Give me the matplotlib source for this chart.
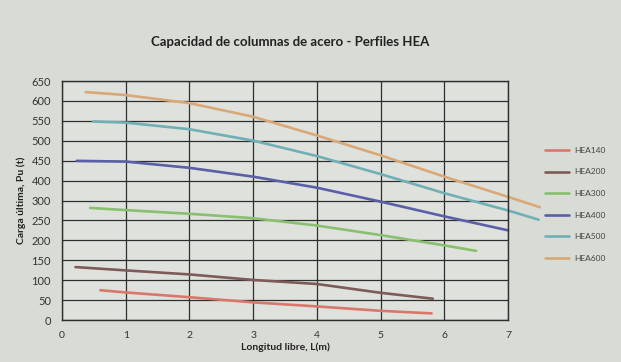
import numpy as np
import matplotlib.pyplot as plt

# valores (longitud libre en m, carga ultima en t)
x_140 = [0.6, 1, 2, 3, 4, 5, 5.8]
y_140 = [81, 75, 62, 48, 37, 25, 18]

x_200 = [0.21, 1, 2, 3, 4, 5, 5.82]
y_200 = [144, 135, 124, 109, 98, 74, 58]

x_300 = [0.44, 1, 2, 3, 4, 5, 6, 6.5]
y_300 = [305, 299, 289, 277, 257, 231, 203, 188]

x_400 = [0.23, 1, 2, 3, 4, 5, 6, 7]
y_400 = [433, 431, 414, 390, 360, 322, 282, 244]

x_500 = [0.49, 1, 2, 3, 4, 5, 6, 7, 7.48]
y_500 = [540, 537, 519, 488, 446, 397, 345, 298, 273]

x_600 = [0.37, 1, 2, 3, 4, 5, 6, 7, 7.5]
y_600 = [620, 612, 590, 553, 502, 448, 390, 335, 307]

# etiquetas del eje y tal como aparecen impresas (13 lineas de rejilla)
y_labels = ["0", "50", "100", "150", "200", "250", "300",
            "400", "450", "500", "550", "600", "650"]
x_labels = ["0", "1", "2", "3", "4", "5", "6", "7"]

series = [
    ("HEA140", x_140, y_140, "#d9776a"),
    ("HEA200", x_200, y_200, "#7d5b58"),
    ("HEA300", x_300, y_300, "#88c070"),
    ("HEA400", x_400, y_400, "#5a5fa8"),
    ("HEA500", x_500, y_500, "#70b0b5"),
    ("HEA600", x_600, y_600, "#d9a878"),
]

plt.rcParams['font.family'] = ['Lato', 'DejaVu Sans']

fig = plt.figure(figsize=(6.21, 3.62), dpi=100, facecolor="#d9dcd5")
ax = fig.add_axes([0.1, 0.116, 0.718, 0.66])
ax.set_facecolor("#dfe2dc")

for name, xs, ys, col in series:
    ax.plot(xs, ys, color=col, lw=1.9, label=name, clip_on=False,
            solid_capstyle="round")

ax.set_xlim(0, 7)
ax.set_ylim(0, 650)
ax.set_xticks(range(8))
ax.set_xticklabels(x_labels, fontsize=7.5, color="#333333")
ax.set_yticks(np.linspace(0, 650, 13))
ax.set_yticklabels(y_labels, fontsize=8, color="#333333")
ax.tick_params(length=0)
ax.tick_params(axis="x", pad=8)
ax.tick_params(axis="y", pad=8)
ax.grid(True, color="#2e2e2e", lw=0.9)
ax.set_axisbelow(True)
for s in ax.spines.values():
    s.set_color("#2e2e2e")
    s.set_linewidth(1.0)

ax.set_xlabel("Longitud libre, L(m)", fontsize=7.5, fontweight="bold",
              color="#222222", labelpad=2)
ax.set_ylabel("Carga última, Pu (t)", fontsize=7.5, fontweight="bold",
              color="#222222", labelpad=4)
fig.text(0.467, 0.885, "Capacidad de columnas de acero - Perfiles HEA",
         ha="center", va="center", fontsize=9.5, fontweight="bold",
         color="#222222")

ax.legend(loc="upper left", bbox_to_anchor=(0.865, 0.615),
          bbox_transform=fig.transFigure, frameon=False, fontsize=6,
          handlelength=2.9, labelspacing=1.75, handletextpad=0.6)
for t in ax.get_legend().get_texts():
    t.set_color("#444444")

fig.savefig("out.png", dpi=100, facecolor=fig.get_facecolor())
